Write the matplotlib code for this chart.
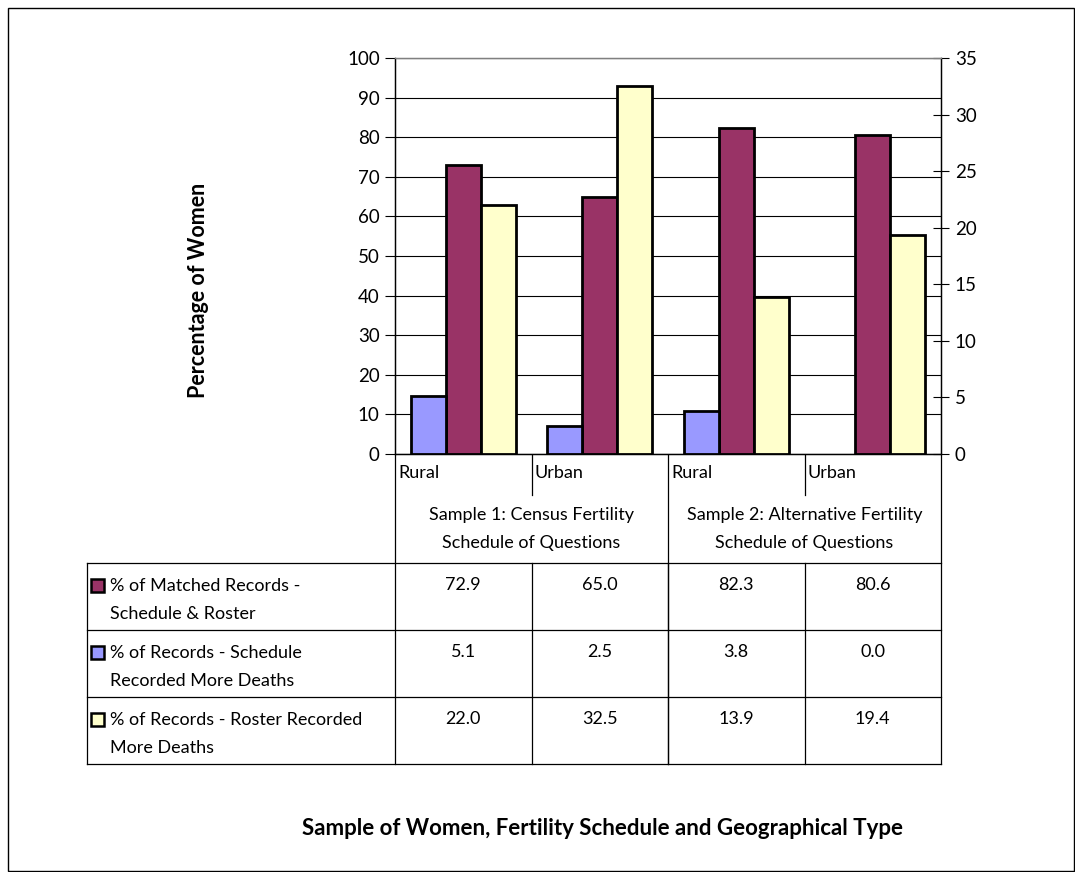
import matplotlib
matplotlib.use("Agg")
import matplotlib.pyplot as plt
from matplotlib.patches import Rectangle

plt.rcParams['font.family'] = ['Lato', 'DejaVu Sans']

# data
categories = ['Rural', 'Urban', 'Rural', 'Urban']
samples = ['Sample 1: Census Fertility\nSchedule of Questions',
           'Sample 2: Alternative Fertility\nSchedule of Questions']
series_names = ['% of Matched Records -\nSchedule & Roster',
                '% of Records - Schedule\nRecorded More Deaths',
                '% of Records - Roster Recorded\nMore Deaths']
matched = [72.9, 65.0, 82.3, 80.6]        # left axis
sched_more = [5.1, 2.5, 3.8, 0.0]         # right axis
roster_more = [22.0, 32.5, 13.9, 19.4]    # right axis
series_values = [matched, sched_more, roster_more]
colors = ['#993366', '#9999FF', '#FFFFCC']

W, H = 1075, 872
FS = 13
LS = 1.93
fig = plt.figure(figsize=(W / 100, H / 100), dpi=100)

# plot area in pixels
px_l, px_r, px_t, px_b = 395, 941, 58, 454
ax = fig.add_axes([px_l / W, 1 - px_b / H, (px_r - px_l) / W, (px_b - px_t) / H])
ax2 = ax.twinx()

bw = 35 / 136.5
x = range(len(categories))
lw_of = lambda vals: [2 if v > 0 else 0 for v in vals]
ax.bar([i for i in x], matched, bw, color=colors[0], edgecolor='black',
       lw=lw_of(matched), zorder=3)
ax2.bar([i - bw for i in x], sched_more, bw, color=colors[1], edgecolor='black',
        lw=lw_of(sched_more), zorder=3)
ax2.bar([i + bw for i in x], roster_more, bw, color=colors[2], edgecolor='black',
        lw=lw_of(roster_more), zorder=3)

ax.set_xlim(-0.5, 3.5)
ax.set_ylim(0, 100)
ax2.set_ylim(0, 35)
ax.set_yticks(range(0, 101, 10))
ax2.set_yticks(range(0, 36, 5))
ax.set_xticks([])
ax.yaxis.grid(True, color='black', lw=0.8, zorder=0)
ax.set_axisbelow(True)
ax.tick_params(axis='y', direction='out', length=7, width=0.8, labelsize=13.5, pad=4)
ax2.tick_params(axis='y', direction='inout', length=12, width=0.8, labelsize=13.5, pad=4)
for a in (ax, ax2):
    for s in a.spines.values():
        s.set_linewidth(0.9)
    a.spines['top'].set_color('#808080')

ax.set_ylabel('Percentage of Women', fontsize=15.5, fontweight='bold')
ax.yaxis.set_label_coords((209 - px_l) / (px_r - px_l), (px_b - 290) / (px_b - px_t))

# overlay in pixel coordinates for the data table and frame
ov = fig.add_axes([0, 0, 1, 1], zorder=-1)
ov.set_xlim(0, W)
ov.set_ylim(H, 0)
ov.axis('off')
ov.add_patch(Rectangle((8, 8), W - 9, H - 9, fill=False, lw=1, ec='black'))

cols = [395, 531.5, 668, 804.5, 941]
lk = dict(color='black', lw=0.9)
# category row
for c in cols:
    full = c in (395, 668, 941)
    ov.plot([c, c], [454, 764 if full else 495], **lk)
for c in cols[1:4]:
    ov.plot([c, c], [563, 764], **lk)
for i, cat in enumerate(categories):
    ov.text(cols[i] + 3, 473, cat, fontsize=FS, ha='left', va='center')
for j, s in enumerate(samples):
    ov.text((cols[2 * j] + cols[2 * j + 2]) / 2, 529, s, fontsize=FS,
            ha='center', va='center', linespacing=LS)
ov.plot([87, 87], [563, 764], **lk)
for yy in [563, 630, 697, 764]:
    ov.plot([87, 941], [yy, yy], **lk)

# legend rows: order matched, sched, roster
for r, (name, vals) in enumerate(zip(series_names, series_values)):
    top = 563 + 67 * r
    ov.add_patch(Rectangle((91, top + 16), 13, 13, fc=colors[r], ec='black', lw=1.8))
    ov.text(110, top + 37, name, fontsize=FS, ha='left', va='center', linespacing=LS)
    for i, v in enumerate(vals):
        ov.text((cols[i] + cols[i + 1]) / 2, top + 22, f'{v:.1f}', fontsize=FS,
                ha='center', va='center')

ov.text(602, 828, 'Sample of Women, Fertility Schedule and Geographical Type',
        fontsize=16, fontweight='bold', ha='center', va='center')

fig.savefig('out.png', dpi=100)
